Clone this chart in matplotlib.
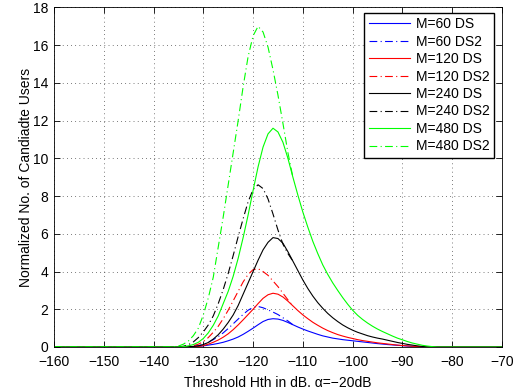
import matplotlib
matplotlib.use('Agg')
import matplotlib.pyplot as plt

plt.rcParams['font.family'] = ['Liberation Sans', 'DejaVu Sans']

# threshold grid (dB) for the DS curves, zero outside
x_ds = [-160, -136, -135, -134, -133, -132, -131, -130, -129, -128, -127,
        -126, -125, -124, -123, -122, -121, -120, -119, -118, -117,
        -116, -115, -114, -113, -112, -111, -110, -109, -108, -107,
        -106, -105, -104, -103, -102, -101, -100, -99, -98, -97,
        -96, -95, -94, -93, -92, -91, -90, -89, -88, -87,
        -86, -85, -84, -83, -70]

b_ds = [0, 0, 0, 0, 0, 0.01, 0.03, 0.06, 0.1, 0.14, 0.19,
        0.25, 0.33, 0.42, 0.53, 0.67, 0.83, 1.0, 1.18, 1.35, 1.46,
        1.5, 1.48, 1.41, 1.3, 1.18, 1.06, 0.95, 0.85, 0.76, 0.67,
        0.59, 0.53, 0.47, 0.43, 0.39, 0.36, 0.33, 0.3, 0.27, 0.24,
        0.21, 0.18, 0.155, 0.13, 0.11, 0.09, 0.07, 0.05, 0.035, 0.02,
        0.01, 0.004, 0, 0, 0]

r_ds = [0, 0, 0, 0, 0, 0.01, 0.03, 0.07, 0.15, 0.25, 0.37,
        0.52, 0.7, 0.92, 1.17, 1.44, 1.72, 2.0, 2.3, 2.58, 2.77,
        2.85, 2.8, 2.65, 2.43, 2.18, 1.93, 1.7, 1.5, 1.31, 1.15,
        1.0, 0.87, 0.76, 0.66, 0.58, 0.51, 0.45, 0.39, 0.34, 0.3,
        0.26, 0.22, 0.19, 0.16, 0.13, 0.1, 0.08, 0.06, 0.04, 0.025,
        0.015, 0.005, 0, 0, 0]

k_ds = [0, 0, 0, 0, 0.02, 0.03, 0.06, 0.13, 0.24, 0.42, 0.65,
        0.95, 1.3, 1.7, 2.2, 2.8, 3.4, 4.0, 4.6, 5.15, 5.55,
        5.8, 5.75, 5.5, 5.05, 4.55, 4.05, 3.55, 3.1, 2.7, 2.35,
        2.05, 1.78, 1.55, 1.35, 1.17, 1.02, 0.89, 0.78, 0.69, 0.6,
        0.53, 0.47, 0.42, 0.36, 0.3, 0.24, 0.19, 0.14, 0.1, 0.06,
        0.03, 0.01, 0, 0, 0]

g_ds = [0, 0, 0, 0.02, 0.06, 0.13, 0.25, 0.45, 0.75, 1.15, 1.65,
        2.3, 2.95, 3.75, 4.7, 5.8, 7.0, 8.3, 9.55, 10.6, 11.3,
        11.6, 11.4, 10.85, 10.0, 9.0, 8.05, 7.15, 6.35, 5.6, 4.95,
        4.35, 3.85, 3.4, 3.0, 2.62, 2.27, 1.95, 1.68, 1.46, 1.27,
        1.1, 0.95, 0.82, 0.7, 0.58, 0.47, 0.38, 0.29, 0.21, 0.15,
        0.09, 0.05, 0.02, 0, 0]

# DS2 curves, they join the DS curves at about -112 dB
x_ds2 = [-160, -136, -135, -134, -133, -132, -131, -130, -129, -128, -127,
         -126, -125, -124, -123, -122, -121, -120, -119, -118, -117,
         -116, -115, -114, -113, -112]

b_ds2 = [0, 0, 0, 0.005, 0.015, 0.035, 0.07, 0.14, 0.25, 0.39, 0.55,
         0.75, 0.98, 1.23, 1.48, 1.73, 1.95, 2.1, 2.15, 2.08, 1.97,
         1.85, 1.72, 1.55, 1.38, 1.18]

r_ds2 = [0, 0, 0, 0.01, 0.03, 0.07, 0.15, 0.28, 0.5, 0.78, 1.1,
         1.5, 1.95, 2.45, 2.95, 3.45, 3.85, 4.1, 4.15, 4.0, 3.8,
         3.5, 3.2, 2.85, 2.5, 2.18]

k_ds2 = [0, 0, 0.01, 0.04, 0.12, 0.27, 0.5, 0.8, 1.17, 1.65, 2.3,
         3.05, 3.9, 4.85, 5.85, 6.8, 7.7, 8.35, 8.6, 8.4, 7.85,
         7.05, 6.2, 5.45, 4.95, 4.55]

g_ds2 = [0, 0, 0.05, 0.15, 0.32, 0.6, 1.0, 1.7, 2.6, 3.7, 5.3,
         6.9, 8.6, 10.3, 12.0, 13.8, 15.4, 16.5, 17.0, 16.7, 15.9,
         14.7, 13.35, 11.85, 10.3, 9.0]

labels = ['M=60 DS', 'M=60 DS2', 'M=120 DS', 'M=120 DS2',
          'M=240 DS', 'M=240 DS2', 'M=480 DS', 'M=480 DS2']

fig = plt.figure(figsize=(5.21, 3.92), dpi=100)
ax = fig.add_axes([0.1036, 0.1148, 0.8599, 0.8661])

dashdot = (0, (7, 3, 1, 3))
lw = 0.8
ax.plot(x_ds, b_ds, color='b', lw=lw, label=labels[0])
ax.plot(x_ds2, b_ds2, color='b', lw=lw, ls=dashdot, label=labels[1])
ax.plot(x_ds, r_ds, color='r', lw=lw, label=labels[2])
ax.plot(x_ds2, r_ds2, color='r', lw=lw, ls=dashdot, label=labels[3])
ax.plot(x_ds, k_ds, color='k', lw=lw, label=labels[4])
ax.plot(x_ds2, k_ds2, color='k', lw=lw, ls=dashdot, label=labels[5])
ax.plot(x_ds, g_ds, color='#00ff00', lw=lw, label=labels[6])
ax.plot(x_ds2, g_ds2, color='#00ff00', lw=lw, ls=dashdot, label=labels[7])

ax.set_xlim(-160, -70)
ax.set_ylim(0, 18)
ax.set_xticks(range(-160, -69, 10))
ax.set_yticks(range(0, 19, 2))
ax.grid(True, color='k', ls=(0, (1, 5)), lw=0.5)
ax.tick_params(direction='in', top=True, right=True, length=4, width=0.6,
               labelsize=10)
ax.tick_params(axis='x', pad=6)
ax.tick_params(axis='y', pad=4)
for s in ax.spines.values():
    s.set_linewidth(0.6)

ax.set_xlabel('Threshold Hth in dB. α=−20dB', fontsize=10, labelpad=5)
ax.set_ylabel('Normalized No. of Candiadte Users', fontsize=10, labelpad=0)

leg = ax.legend(loc='upper right', bbox_to_anchor=(0.982, 0.984),
                borderaxespad=0, fontsize=10, fancybox=False,
                edgecolor='k', framealpha=1, handlelength=3.0,
                labelspacing=0.25, borderpad=0.3, handletextpad=0.4)
leg.get_frame().set_linewidth(1.0)

fig.savefig('out.png', dpi=100)
